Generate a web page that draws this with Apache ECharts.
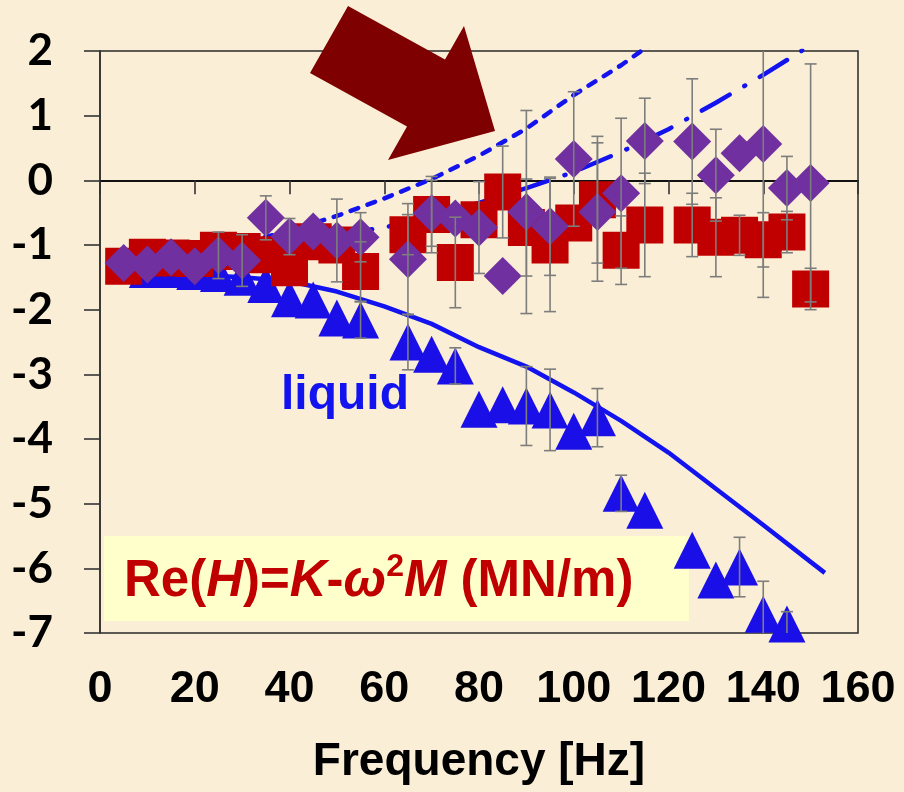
<!DOCTYPE html>
<html>
<head>
<meta charset="utf-8">
<script src="https://cdn.jsdelivr.net/npm/echarts@6/dist/echarts.min.js"></script>
<style>
  html, body { margin: 0; padding: 0; background: #faefd6; }
  #chart { width: 904px; height: 792px; }
</style>
</head>
<body>
<div id="chart"></div>
<script>
// Measured Re(H) stiffness (MN/m) versus frequency (Hz)
const squareFreq = [5, 10, 15, 20, 25, 30, 35, 40, 45, 50, 55, 65, 70, 75, 80, 85, 90, 95, 100, 105, 110, 115, 125, 130, 135, 140, 145, 150];
const squareVals = [-1.33, -1.19, -1.20, -1.21, -1.08, -1.10, -1.15, -1.35, -0.95, -1.00, -1.41, -0.84, -0.53, -1.27, -0.61, -0.18, -0.73, -1.00, -0.66, -0.30, -1.08, -0.69, -0.69, -0.88, -0.85, -0.92, -0.80, -1.68];
const squareErr  = [0, 0, 0, 0, 0, 0, 0, 0, 0, 0, 0.46, 0.31, 0.59, 0.70, 0, 0.71, 0.75, 1.03, 0, 0.98, 0.53, 0.80, 0.49, 0.61, 0.31, 0.42, 0.32, 0.32];

const diamondFreq = [5, 10, 15, 20, 25, 30, 35, 40, 45, 50, 55, 65, 70, 75, 80, 85, 90, 95, 100, 105, 110, 115, 125, 130, 135, 140, 145, 150];
const diamondVals = [-1.28, -1.30, -1.19, -1.33, -1.16, -1.24, -0.58, -0.87, -0.79, -0.93, -0.88, -1.22, -0.51, -0.59, -0.73, -1.48, -0.49, -0.71, 0.33, -0.49, -0.20, 0.61, 0.60, 0.08, 0.42, 0.56, -0.12, -0.04];
const diamondErr  = [0, 0, 0, 0, 0.36, 0.40, 0.34, 0.28, 0, 0.64, 0.38, 0.86, 0.51, 0, 0.71, 0, 1.57, 0.76, 1.04, 1.07, 1.16, 0.66, 0.97, 0.71, 0, 2.37, 0.49, 1.84];

const triangleFreq = [5, 10, 15, 20, 25, 30, 35, 40, 45, 50, 55, 65, 70, 75, 80, 85, 90, 95, 100, 105, 110, 115, 125, 130, 135, 140, 145];
const triangleVals = [-1.29, -1.38, -1.38, -1.41, -1.44, -1.50, -1.61, -1.83, -1.85, -2.13, -2.16, -2.50, -2.69, -2.87, -3.54, -3.47, -3.49, -3.55, -3.88, -3.67, -4.84, -5.10, -5.72, -6.18, -5.98, -6.71, -6.86];
const triangleErr  = [0, 0, 0, 0, 0, 0, 0, 0, 0, 0, 0.28, 0.43, 0, 0.28, 0, 0, 0.61, 0.63, 0, 0.45, 0.28, 0, 0, 0, 0.46, 0.51, 0.19];

// Model curves
const liquidFreq = [5, 10, 20, 30, 40, 50, 60, 70, 80, 90, 100, 110, 120, 130, 140, 150, 153];
const liquidVals = [-1.42, -1.43, -1.46, -1.50, -1.56, -1.72, -1.95, -2.22, -2.58, -2.88, -3.28, -3.72, -4.21, -4.77, -5.33, -5.90, -6.07];

const dashFreq = [5, 10, 20, 30, 40, 50, 60, 70, 80, 90, 100, 110, 120];
const dashVals = [-1.32, -1.28, -1.15, -0.97, -0.78, -0.55, -0.28, 0.02, 0.38, 0.80, 1.32, 1.78, 2.30];

const dashDotFreq = [5, 10, 20, 30, 40, 50, 60, 70, 80, 90, 100, 110, 120, 130, 140, 150];
const dashDotVals = [-1.30, -1.24, -1.13, -1.01, -0.92, -0.83, -0.73, -0.55, -0.35, -0.12, 0.13, 0.44, 0.79, 1.20, 1.63, 2.09];

const xMin = 0, xMax = 160, xStep = 20;
const yMin = -7, yMax = 2, yStep = 1;

const pairs = (xs, ys) => xs.map((x, i) => [x, ys[i]]);
const errRows = (xs, ys, es) => xs.map((x, i) => [x, ys[i] - es[i], ys[i] + es[i]]).filter((r, i) => es[i] > 0);

const blueLine = '#1313ef';
const errColor = '#7d7d7d';
const red = '#c00000';

function renderErrorBar(params, api) {
  const x = api.value(0);
  const lo = api.coord([x, api.value(1)]);
  const hi = api.coord([x, api.value(2)]);
  const cap = 6;
  const style = { stroke: errColor, lineWidth: 1.6 };
  return {
    type: 'group',
    children: [
      { type: 'line', shape: { x1: lo[0], y1: lo[1], x2: hi[0], y2: hi[1] }, style },
      { type: 'line', shape: { x1: lo[0] - cap, y1: lo[1], x2: lo[0] + cap, y2: lo[1] }, style },
      { type: 'line', shape: { x1: hi[0] - cap, y1: hi[1], x2: hi[0] + cap, y2: hi[1] }, style }
    ]
  };
}

const labelFont = 'Liberation Sans, Arial, sans-serif';

const chart = echarts.init(document.getElementById('chart'), null, { renderer: 'canvas' });

chart.setOption({
  backgroundColor: '#faefd6',
  animation: false,
  grid: {
    left: 100, top: 51, right: 46, bottom: 159,
    show: true, borderColor: '#2a2a2a', borderWidth: 1.5, backgroundColor: 'transparent'
  },
  xAxis: [
    {
      type: 'value', min: xMin, max: xMax, interval: xStep,
      position: 'bottom',
      axisLine: { show: false, onZero: false },
      axisTick: { show: false },
      splitLine: { show: false },
      axisLabel: {
        margin: 34, color: '#000', fontSize: 45, fontWeight: 'bold',
        fontFamily: labelFont
      },
      name: 'Frequency [Hz]', nameLocation: 'middle', nameGap: 106,
      nameTextStyle: { color: '#000', fontSize: 46, fontWeight: 'bold', fontFamily: labelFont }
    },
    {
      type: 'value', min: xMin, max: xMax, interval: xStep,
      position: 'bottom',
      axisLine: { show: true, onZero: true, lineStyle: { color: '#111', width: 2 } },
      axisTick: { show: true, length: 14, lineStyle: { color: '#333', width: 1.6 } },
      axisLabel: { show: false },
      splitLine: { show: false }
    }
  ],
  yAxis: {
    type: 'value', min: yMin, max: yMax, interval: yStep,
    axisLine: { show: true, lineStyle: { color: '#333', width: 1.6 } },
    axisTick: { show: true, length: 16, lineStyle: { color: '#333', width: 1.6 } },
    splitLine: { show: false },
    axisLabel: {
      margin: 47, color: '#000', fontSize: 44, fontWeight: 'bold',
      fontFamily: 'Lato, Open Sans, sans-serif'
    }
  },
  series: [
    {
      name: 'liquid model', type: 'line', z: 2, showSymbol: false, symbol: 'none',
      data: pairs(liquidFreq, liquidVals),
      lineStyle: { color: blueLine, width: 4.5 }
    },
    {
      name: 'model A', type: 'line', z: 2, showSymbol: false, symbol: 'none', clip: true,
      data: pairs(dashFreq, dashVals),
      lineStyle: { color: blueLine, width: 4.5, type: [8, 10], cap: 'round' }
    },
    {
      name: 'model B', type: 'line', z: 2, showSymbol: false, symbol: 'none', clip: true,
      data: pairs(dashDotFreq, dashDotVals),
      lineStyle: { color: blueLine, width: 4.5, type: [32, 17, 1, 17], cap: 'round' }
    },
    {
      name: 'liquid', type: 'scatter', z: 3, symbol: 'triangle', symbolSize: 37,
      data: pairs(triangleFreq, triangleVals),
      itemStyle: { color: '#1a0fe6', opacity: 1 }
    },
    {
      name: 'set 1', type: 'scatter', z: 4, symbol: 'rect', symbolSize: 37,
      data: pairs(squareFreq, squareVals),
      itemStyle: { color: red, opacity: 1 }
    },
    {
      name: 'set 2', type: 'scatter', z: 5, symbol: 'diamond', symbolSize: 38,
      data: pairs(diamondFreq, diamondVals),
      itemStyle: { color: '#7030a0', opacity: 1 }
    },
    {
      type: 'custom', z: 6, clip: true, renderItem: renderErrorBar,
      encode: { x: 0, y: [1, 2] },
      data: errRows(triangleFreq, triangleVals, triangleErr)
    },
    {
      type: 'custom', z: 6, clip: true, renderItem: renderErrorBar,
      encode: { x: 0, y: [1, 2] },
      data: errRows(squareFreq, squareVals, squareErr)
    },
    {
      type: 'custom', z: 6, clip: true, renderItem: renderErrorBar,
      encode: { x: 0, y: [1, 2] },
      data: errRows(diamondFreq, diamondVals, diamondErr)
    }
  ],
  graphic: [
    {
      // formula box sits beneath the markers
      type: 'rect', z: 1,
      shape: { x: 104, y: 536, width: 585, height: 85 },
      style: { fill: '#ffffcc' }
    },
    {
      type: 'text', z: 1, left: 124, top: 551,
      style: {
        text: '{n|Re(}{i|H}{n|)=}{i|K}{n|-}{i|ω}{s|2}{i|M}{n| (MN/m)}',
        rich: {
          n: { fontSize: 51, fontWeight: 'bold', fill: red, fontFamily: labelFont, verticalAlign: 'bottom', lineHeight: 56 },
          i: { fontSize: 51, fontWeight: 'bold', fontStyle: 'italic', fill: red, fontFamily: labelFont, verticalAlign: 'bottom', lineHeight: 56 },
          s: { fontSize: 32, fontWeight: 'bold', fill: red, fontFamily: labelFont, verticalAlign: 'top', lineHeight: 32 }
        }
      }
    },
    {
      type: 'text', z: 11, left: 281, top: 372,
      style: {
        text: 'liquid', fill: '#1313ef', fontSize: 48, fontWeight: 'bold',
        fontFamily: labelFont
      }
    },
    {
      type: 'polygon', z: 12,
      shape: { points: [[348, 6], [445, 59.5], [464, 26], [495, 131], [388, 160], [407, 126.5], [310, 73]] },
      style: { fill: '#7f0000' }
    }
  ]
});
</script>
</body>
</html>
